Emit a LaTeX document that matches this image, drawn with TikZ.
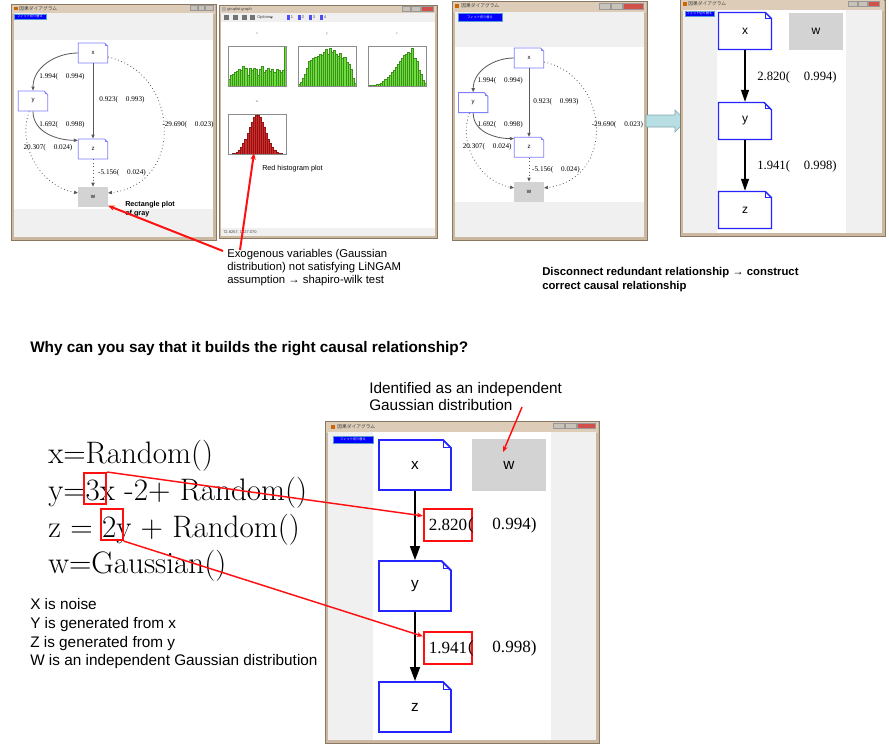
\documentclass[tikz,border=0pt]{standalone}
\usepackage{fontspec}
\usetikzlibrary{arrows.meta,positioning,shapes.misc}
\newfontfamily\sansf{Liberation Sans}
\newfontfamily\seriff{Liberation Serif}
\newfontfamily\cjkf{Noto Sans CJK JP}

\definecolor{frametan}{HTML}{CBB8A0}
\definecolor{framedark}{HTML}{8A7862}
\definecolor{titlelight}{HTML}{DDCDB8}
\definecolor{titledark}{HTML}{9C8468}
\definecolor{panelgray}{HTML}{F0F0F0}
\definecolor{btnblue}{HTML}{0000FF}
\definecolor{btnedge}{HTML}{5B9BD5}
\definecolor{ctrlgray}{HTML}{C9C2B8}
\definecolor{closered}{HTML}{D2504A}
\definecolor{notelight}{HTML}{7F7FFF}
\definecolor{noteblue}{HTML}{2424FF}
\definecolor{wgray}{HTML}{D3D3D3}
\definecolor{annotred}{HTML}{FF1010}
\definecolor{histgreen}{HTML}{6CE03A}
\definecolor{histgreenedge}{HTML}{3F8F1E}
\definecolor{histred}{HTML}{D32B2B}
\definecolor{histrededge}{HTML}{8F1515}
\definecolor{arrowteal}{HTML}{B7DEE3}
\definecolor{arrowedge}{HTML}{86AAAE}

\newcommand{\pgap}{\hspace{1.1em}}

% histogram heights (fraction of the plot box)
\def\histx{0.18,0.28,0.3,0.36,0.38,0.42,0.4,0.5,0.44,0.28,0.46,0.4,0.45,0.42,0.28,0.43,0.5,0.36,0.4,0.46,0.38,0.42,0.34,0.42,0.4,0.36,0.4,1.0}
\def\histy{0.05,0.1,0.2,0.3,0.45,0.62,0.66,0.7,0.72,0.75,0.8,0.78,0.85,0.92,0.8,0.96,0.85,0.9,0.8,0.74,0.82,0.7,0.72,0.6,0.55,0.42,0.2,0.08}
\def\histz{0.02,0.02,0.03,0.03,0.04,0.06,0.08,0.12,0.18,0.22,0.28,0.34,0.4,0.48,0.56,0.62,0.7,0.78,0.8,0.85,0.82,0.96,0.7,0.62,0.4,0.3,0.14,0.08}

\tikzset{
  winframe/.style={fill=frametan, draw=framedark, line width=0.4pt},
  titlebar/.style={left color=titlelight, middle color=titledark, right color=titlelight},
  panel/.style={fill=panelgray},
  appbutton/.style={fill=btnblue, draw=btnedge, line width=0.3pt, inner sep=0pt, text=white, font=\cjkf\fontsize{2.4}{3}\selectfont},
  wintitle/.style={anchor=west, inner sep=0pt, text=black!75, font=\cjkf\fontsize{3.6}{4}\selectfont},
  tooltext/.style={anchor=west, inner sep=0pt, text=black!75, font=\sansf\fontsize{3}{3.5}\selectfont},
  ctrlbtn/.style={fill=ctrlgray, draw=black!40, line width=0.2pt},
  closebtn/.style={fill=closered, draw=black!40, line width=0.2pt},
  % folded-corner boxes
  smallnote/.style={chamfered rectangle, chamfered rectangle corners=north east,
    chamfered rectangle xsep=1.8pt, chamfered rectangle ysep=1.8pt,
    draw=notelight, fill=white, line width=0.6pt, inner sep=0pt,
    minimum width=22pt, minimum height=15pt, font=\sansf\fontsize{4.5}{5}\selectfont,
    path picture={\draw[notelight, line width=0.4pt]
      ([xshift=-1.8pt]path picture bounding box.north east) |- ([yshift=-1.8pt]path picture bounding box.north east);}},
  midnote/.style={chamfered rectangle, chamfered rectangle corners=north east,
    chamfered rectangle xsep=4.5pt, chamfered rectangle ysep=4.5pt,
    draw=noteblue, fill=white, line width=1.1pt, inner sep=0pt,
    minimum width=39.75pt, minimum height=27.75pt, font=\sansf\fontsize{9}{10}\selectfont,
    path picture={\draw[noteblue, line width=0.6pt]
      ([xshift=-4.5pt]path picture bounding box.north east) |- ([yshift=-4.5pt]path picture bounding box.north east);}},
  bignote/.style={chamfered rectangle, chamfered rectangle corners=north east,
    chamfered rectangle xsep=5.5pt, chamfered rectangle ysep=5.5pt,
    draw=noteblue, fill=white, line width=1.4pt, inner sep=0pt,
    minimum width=54pt, minimum height=37.5pt, font=\sansf\fontsize{11.5}{12}\selectfont,
    path picture={\draw[noteblue, line width=0.7pt]
      ([xshift=-5.5pt]path picture bounding box.north east) |- ([yshift=-5.5pt]path picture bounding box.north east);}},
  smallgray/.style={rectangle, fill=wgray, inner sep=0pt, minimum width=22pt, minimum height=15pt, font=\sansf\fontsize{4.5}{5}\selectfont},
  midgray/.style={rectangle, fill=wgray, inner sep=0pt, minimum width=40.5pt, minimum height=27.75pt, font=\sansf\fontsize{9}{10}\selectfont},
  biggray/.style={rectangle, fill=wgray, inner sep=0pt, minimum width=55pt, minimum height=39pt, font=\sansf\fontsize{11.5}{12}\selectfont},
  % edges and labels
  thinedge/.style={draw=black!65, line width=0.6pt, -{Triangle[length=3pt,width=2.4pt]}},
  dotedge/.style={draw=black!65, line width=0.6pt, dotted, -{Triangle[length=3pt,width=2.4pt]}},
  midedge/.style={draw=black, line width=1pt, -{Triangle[length=9pt,width=6pt]}},
  bigedge/.style={draw=black, line width=1.2pt, -{Triangle[length=10.5pt,width=7.5pt]}},
  smalllabel/.style={inner sep=0pt, font=\seriff\fontsize{5.4}{6}\selectfont},
  midlabel/.style={inner sep=0pt, font=\seriff\fontsize{9.5}{11}\selectfont},
  biglabel/.style={inner sep=0pt, font=\seriff\fontsize{12.8}{14}\selectfont},
  bigvalue/.style={draw=annotred, line width=1.6pt, minimum width=36pt, minimum height=24pt, inner sep=0pt, font=\seriff\fontsize{12.8}{14}\selectfont},
  % annotations
  redarrow/.style={draw=annotred, line width=1.5pt, -{Stealth[length=5pt,width=4pt]}},
  thinred/.style={draw=annotred, line width=1.1pt, -{Stealth[length=4.5pt,width=3.6pt]}},
  eqline/.style={anchor=base west, inner sep=0pt, font=\fontsize{23.3}{28}\selectfont},
  eqbox/.style={draw=annotred, line width=1.5pt, minimum width=16.5pt, minimum height=23.25pt, inner sep=0pt},
  annot/.style={align=left, inner sep=0pt, font=\sansf\fontsize{8.5}{9.6}\selectfont},
}

% causal graph with every candidate edge
\newcommand{\fullgraph}[1]{%
  \node[smallnote] (#1x) at (0,0) {x};
  \node[smallnote] (#1y) at (-60,-48) {y};
  \node[smallnote] (#1z) at (0,-96) {z};
  \node[smallgray] (#1w) at (0,-144) {w};
  \draw[thinedge] (#1x.west) to[out=180,in=90] (#1y.north);
  \draw[thinedge] (#1x.south) -- (#1z.north);
  \draw[thinedge] (#1y.south) to[out=-90,in=180] (#1z.150);
  \draw[dotedge] (#1y.250) to[out=250,in=170] (#1w.165);
  \draw[dotedge] (#1z.south) -- (#1w.north);
  \draw[dotedge] (#1x.345) .. controls +(72,-16) and +(77,9) .. (#1w.15);
  \node[smalllabel] (#1lxy) at (-31,-24) {1.994(\pgap 0.994)};
  \node[smalllabel] (#1lxz) at (29,-47) {0.923(\pgap 0.993)};
  \node[smalllabel] (#1lyz) at (-31,-72) {1.692(\pgap 0.998)};
  \node[smalllabel] (#1lyw) at (-45,-95) {20.307(\pgap 0.024)};
  \node[smalllabel] (#1lxw) at (95,-72) {-29.690(\pgap 0.023)};
  \node[smalllabel] (#1lzw) at (29,-120) {-5.156(\pgap 0.024)};
}

\begin{document}
\begin{tikzpicture}[x=0.75pt, y=0.75pt]
  \useasboundingbox (0,0) rectangle (889,-747);
  \fill[white] (0,0) rectangle (889,-747);

  % Window 1: all edges
  \fill[winframe] (11,-4) rectangle (216,-240);
  \shade[titlebar] (12,-5) rectangle (215,-13);
  \fill[panel] (14,-13) rectangle (213,-237);
  \fill[white] (14,-40) rectangle (213,-209);
  \node[appbutton, minimum width=24pt, minimum height=3.8pt] (btna) at (30,-16.5) {フィット切り替え};
  \fill[orange!80!black] (14,-6.5) rectangle (17.5,-10);
  \node[wintitle] (titlea) at (19,-8.3) {因果ダイアグラム};
  \fill[ctrlbtn] (190,-5.5) rectangle (197,-10.5);
  \fill[ctrlbtn] (198,-5.5) rectangle (204,-10.5);
  \fill[ctrlbtn] (205,-5.5) rectangle (213,-10.5);
  \begin{scope}[shift={(93,-53)}]
    \fullgraph{a}
  \end{scope}
  \node[anchor=north west, align=left, inner sep=0pt, font=\sansf\bfseries\fontsize{5.4}{6.75}\selectfont] (graynote) at (125,-201) {Rectangle plot\\of gray};

  % Window 2: gnuplot histograms
  \fill[winframe] (219,-5) rectangle (437,-238);
  \shade[titlebar] (220,-6) rectangle (436,-13);
  \fill[panel] (221,-13) rectangle (435,-236);
  \fill[white] (221,-22) rectangle (435,-228);
  \fill[gray!60] (222,-7) rectangle (225.5,-11);
  \node[tooltext] (titleg) at (227,-9) {gnuplot graph};
  \fill[ctrlbtn] (402,-6) rectangle (410,-11);
  \fill[ctrlbtn] (411,-6) rectangle (420,-11);
  \fill[closebtn] (421,-6) rectangle (433,-11);
  \foreach \ix in {224,233,242,250}
    \fill[black!55] (\ix,-15) rectangle ++(5,-5);
  \node[tooltext] (options) at (257,-17.5) {Options};
  \fill[black!70] (270,-16.5) -- (273,-16.5) -- (271.5,-18.5) -- cycle;
  \foreach \k [count=\n] in {287,298,309,320} {
    \fill[blue!70] (\k,-15) rectangle ++(2.5,-5);
    \node[tooltext] at (\k+3.5,-17.5) {\n};
  }
  \node[tooltext] (status) at (223,-232) {72.8267, 1027.070};
  % Draw histograms
  \foreach \h [count=\i from 0] in \histx
    \fill[histgreen, draw=histgreenedge, line width=0.15pt] (228+\i*2.07,-86) rectangle ++(2.07,40*\h);
  \foreach \h [count=\i from 0] in \histy
    \fill[histgreen, draw=histgreenedge, line width=0.15pt] (298+\i*2.07,-86) rectangle ++(2.07,40*\h);
  \foreach \h [count=\i from 0] in \histz
    \fill[histgreen, draw=histgreenedge, line width=0.15pt] (368+\i*2.07,-86) rectangle ++(2.07,40*\h);
  \foreach \i in {0,...,27} {
    \pgfmathsetmacro\h{0.98*exp(-(\i-13.5)*(\i-13.5)/32)}
    \fill[histred, draw=histrededge, line width=0.15pt] (228+\i*2.07,-154) rectangle ++(2.07,40*\h);
  }
  \foreach \hx/\hy/\hname in {228/-46/x, 298/-46/y, 368/-46/z, 228/-114/w} {
    \draw[black!45, line width=0.4pt] (\hx,\hy) rectangle ++(58,-40);
    \node[tooltext, anchor=center, text=black!50, font=\sansf\fontsize{2.5}{3}\selectfont] at (\hx+29,\hy+12) {\hname};
  }
  \coordinate (redhist) at (254,-153);
  \node[anchor=west, inner sep=0pt, font=\sansf\fontsize{5.4}{6}\selectfont] (histnote) at (262,-169) {Red histogram plot};

  % Window 3: same graph before pruning
  \fill[winframe] (452,-1) rectangle (647,-240);
  \shade[titlebar] (453,-2) rectangle (646,-12);
  \fill[panel] (455,-12) rectangle (644,-237);
  \fill[white] (455,-47) rectangle (644,-202);
  \node[appbutton, minimum width=33pt, minimum height=6pt] (btnb) at (480,-17) {フィット切り替え};
  \fill[orange!80!black] (455,-4) rectangle (459,-8);
  \node[wintitle] (titleb) at (461,-6) {因果ダイアグラム};
  \fill[ctrlbtn] (599,-3) rectangle (610,-9);
  \fill[ctrlbtn] (611,-3) rectangle (622,-9);
  \fill[closebtn] (623,-3) rectangle (643,-9);
  \begin{scope}[shift={(529,-58)}, scale=0.93]
    \fullgraph{b}
  \end{scope}

  % wide arrow between the windows
  \filldraw[fill=arrowteal, draw=arrowedge, line width=0.5pt]
    (646,-115) -- (675,-115) -- (675,-110) -- (686,-121) -- (675,-132) -- (675,-127) -- (646,-127) -- cycle;

  % Window 4: pruned graph
  \fill[winframe] (680,0) rectangle (885,-236);
  \shade[titlebar] (681,0) rectangle (884,-10);
  \fill[panel] (683,-10) rectangle (882,-233);
  \fill[white] (717,-10) rectangle (846,-233);
  \node[appbutton, minimum width=22pt, minimum height=3.8pt] (btnc) at (699.5,-13.5) {フィット切り替え};
  \fill[orange!80!black] (683,-2) rectangle (686.5,-5.5);
  \node[wintitle] (titlec) at (688,-4) {因果ダイアグラム};
  \fill[ctrlbtn] (848,-1.5) rectangle (857,-6);
  \fill[ctrlbtn] (858,-1.5) rectangle (867,-6);
  \fill[closebtn] (868,-1.5) rectangle (879,-6);
  \node[midnote] (cx) at (745,-31) {x};
  \node[midgray] (cw) at (816,-31) {w};
  \node[midnote] (cy) at (745,-121) {y};
  \node[midnote] (cz) at (745,-210) {z};
  \draw[midedge] (cx.south) -- (cy.north);
  \draw[midedge] (cy.south) -- (cz.north);
  \node[midlabel] (cxy) at (797,-77) {2.820(\pgap 0.994)};
  \node[midlabel] (cyz) at (797,-166) {1.941(\pgap 0.998)};

  % notes of the top row
  \node[annot, anchor=north west] (exonote) at (227,-249.5) {Exogenous variables (Gaussian\\distribution) not satisfying LiNGAM\\assumption → shapiro-wilk test};
  \coordinate (exotail) at (223,-251);
  \coordinate (histtail) at (240,-250);
  \draw[redarrow] (exotail) -- (aw.-30);
  \draw[redarrow] (histtail) -- (redhist);
  \node[annot, anchor=north west, font=\sansf\bfseries\fontsize{8.5}{10.5}\selectfont] (prunenote) at (542,-267.5) {Disconnect redundant relationship → construct\\correct causal relationship};

  % Question
  \node[anchor=base west, inner sep=0pt, font=\sansf\bfseries\fontsize{11.5}{13}\selectfont] (question) at (30,-352) {Why can you say that it builds the right causal relationship?};

  % Generating equations
  \node[eqline] (eqx) at (48,-463) {x=Random()};
  \node[eqline] (eqy) at (48,-500) {y=3x -2+ Random()};
  \node[eqline] (eqz) at (48,-537) {z = 2y + Random()};
  \node[eqline] (eqw) at (48,-573) {w=Gaussian()};
  \node[eqbox] (box3) at (95,-488.5) {};
  \node[eqbox] (box2) at (111.5,-524.5) {};
  \node[anchor=north west, align=left, inner sep=0pt, font=\sansf\fontsize{11.5}{14}\selectfont] (meaning) at (30,-598.5) {X is noise\\Y is generated from x\\Z is generated from y\\W is an independent Gaussian distribution};

  % Window 5: result
  \fill[winframe] (325,-421) rectangle (599,-743);
  \shade[titlebar] (326,-422) rectangle (598,-432);
  \fill[panel] (328,-432) rectangle (596,-740);
  \fill[white] (373,-432) rectangle (551,-740);
  \node[appbutton, minimum width=30pt, minimum height=5.2pt] (btnd) at (353,-439.5) {フィット切り替え};
  \fill[orange!80!black] (331,-425) rectangle (335,-429);
  \node[wintitle] (titled) at (337,-427) {因果ダイアグラム};
  \fill[ctrlbtn] (553,-423) rectangle (564,-428.5);
  \fill[ctrlbtn] (565,-423) rectangle (576,-428.5);
  \fill[closebtn] (577,-423) rectangle (595,-428.5);
  \node[bignote] (dx) at (415,-465) {x};
  \node[biggray] (dw) at (509,-465) {w};
  \node[bignote] (dy) at (415,-586) {y};
  \node[bignote] (dz) at (415,-707) {z};
  \draw[bigedge] (dx.south) -- (dy.north);
  \draw[bigedge] (dy.south) -- (dz.north);
  \node[bigvalue] (dxy) at (448,-525) {2.820};
  \node[biglabel, anchor=west, right=-4pt of dxy] (dxyr) {(\pgap 0.994)};
  \node[bigvalue] (dyz) at (448,-648) {1.941};
  \node[biglabel, anchor=west, right=-4pt of dyz] (dyzr) {(\pgap 0.998)};
  \draw[thinred] (box3.north east) -- (dxy.160);
  \draw[thinred] (box2.south east) -- (dyz.155);

  % note on w
  \node[anchor=north west, align=left, inner sep=0pt, font=\sansf\fontsize{11.5}{12.75}\selectfont] (identnote) at (369,-382) {Identified as an independent\\Gaussian distribution};
  \coordinate (identtail) at (522,-407);
  \coordinate (wpoint) at (503,-452);
  \draw[thinred] (identtail) -- (wpoint);
\end{tikzpicture}
\end{document}
